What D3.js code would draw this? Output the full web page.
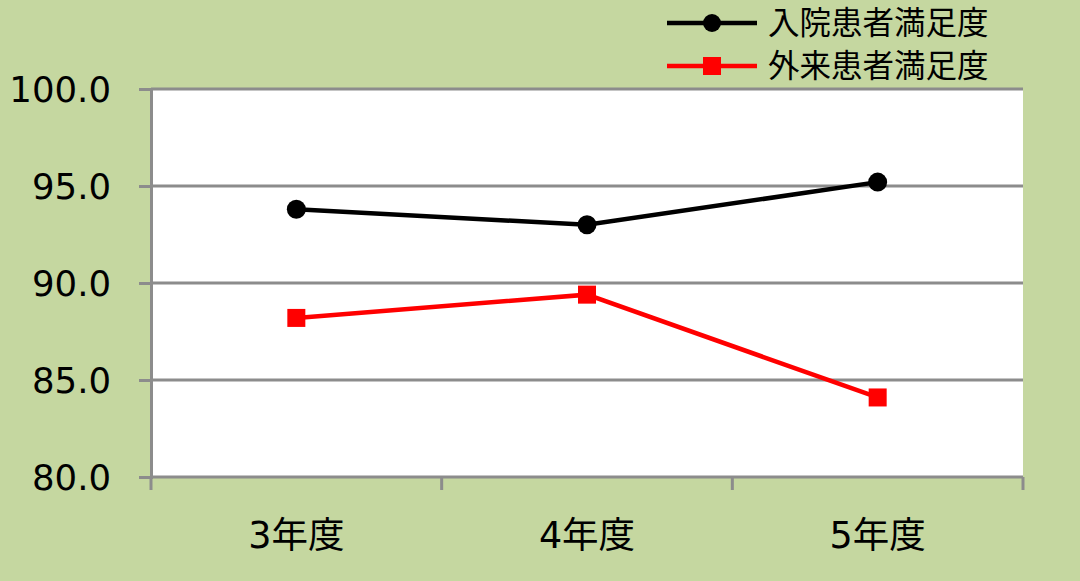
<!DOCTYPE html>
<html><head><meta charset="utf-8">
<script src="https://cdn.jsdelivr.net/npm/d3@7"></script>
<style>
html,body{margin:0;padding:0;background:#c5d7a0;}
svg{display:block;}
text{font-family:"DejaVu Sans","Noto Sans CJK JP",sans-serif;fill:#000;}
</style></head><body>
<svg id="c" width="1080" height="581"></svg>
<script>
const categories = ["3年度","4年度","5年度"];
const inpatient = [93.8, 93.0, 95.2];
const outpatient = [88.2, 89.4, 84.1];
const seriesNames = ["入院患者満足度","外来患者満足度"];
const yTicks = [80,85,90,95,100];

const svg = d3.select("#c");
const W=1080,H=581;
const m={left:151,right:1023,top:89,bottom:477};
svg.append("rect").attr("width",W).attr("height",H).attr("fill","#c5d7a0");
svg.append("rect").attr("x",m.left).attr("y",m.top).attr("width",m.right-m.left).attr("height",m.bottom-m.top).attr("fill","#fff");

const x=d3.scaleBand().domain(categories).range([m.left,m.right]);
const y=d3.scaleLinear().domain([80,100]).range([m.bottom,m.top]);
const grid="#8c8c8c";

// gridlines + y axis
const ya=svg.append("g").attr("transform",`translate(${m.left},0)`)
  .call(d3.axisLeft(y).tickValues(yTicks).tickSize(12).tickFormat(d3.format(".1f")).tickPadding(28));
ya.select(".domain").attr("stroke",grid).attr("stroke-width",3);
ya.selectAll(".tick line").attr("stroke",grid).attr("stroke-width",3);
ya.selectAll(".tick text").attr("font-size",35.5).attr("dy","0.36em");
svg.append("g").selectAll("line").data(yTicks).join("line")
  .attr("x1",m.left).attr("x2",m.right).attr("y1",d=>y(d)).attr("y2",d=>y(d))
  .attr("stroke",grid).attr("stroke-width",3);

// x axis
const xa=svg.append("g").attr("transform",`translate(0,${m.bottom})`)
  .call(d3.axisBottom(x).tickSize(0).tickPadding(45));
xa.select(".domain").remove();
xa.selectAll(".tick text").attr("font-size",36.5);
const bounds=[m.left,...categories.map(c=>x(c)+x.bandwidth())];
svg.append("g").selectAll("line").data(bounds).join("line")
  .attr("x1",d=>d).attr("x2",d=>d).attr("y1",m.bottom).attr("y2",m.bottom+13)
  .attr("stroke",grid).attr("stroke-width",3);

const cx=c=>x(c)+x.bandwidth()/2;
const line=d3.line().x((d,i)=>cx(categories[i])).y(d=>y(d));
svg.append("path").datum(inpatient).attr("d",line).attr("fill","none").attr("stroke","#000").attr("stroke-width",4.5);
svg.append("path").datum(outpatient).attr("d",line).attr("fill","none").attr("stroke","#ff0000").attr("stroke-width",4.5);
svg.append("g").selectAll("circle").data(inpatient).join("circle")
  .attr("cx",(d,i)=>cx(categories[i])).attr("cy",d=>y(d)).attr("r",9.5).attr("fill","#000");
svg.append("g").selectAll("rect").data(outpatient).join("rect")
  .attr("x",(d,i)=>cx(categories[i])-9).attr("y",d=>y(d)-9).attr("width",18).attr("height",18).attr("fill","#ff0000");

// legend
const lg=svg.append("g");
const ly=[23,66], lc=["#000","#ff0000"];
seriesNames.forEach((n,i)=>{
  lg.append("line").attr("x1",667).attr("x2",757).attr("y1",ly[i]).attr("y2",ly[i]).attr("stroke",lc[i]).attr("stroke-width",4.5);
  if(i===0) lg.append("circle").attr("cx",712).attr("cy",ly[i]).attr("r",9).attr("fill",lc[i]);
  else lg.append("rect").attr("x",703).attr("y",ly[i]-9).attr("width",18).attr("height",18).attr("fill",lc[i]);
  lg.append("text").attr("x",768).attr("y",ly[i]).attr("dy","0.36em").attr("font-size",31.5).text(n);
});
</script></body></html>
